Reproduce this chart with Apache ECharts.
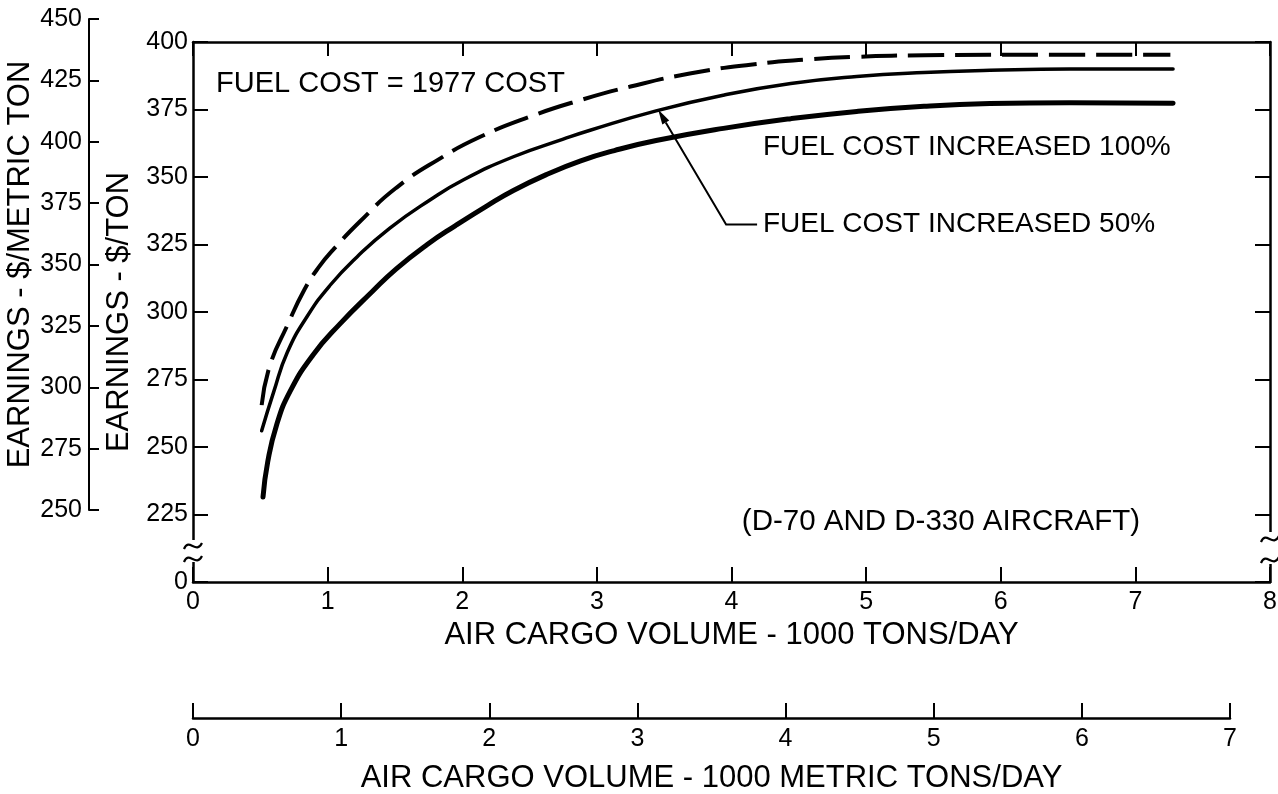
<!DOCTYPE html>
<html><head><meta charset="utf-8">
<script src="https://cdn.jsdelivr.net/npm/echarts@6/dist/echarts.min.js"></script>
<style>html,body{margin:0;padding:0;background:#fff}#c{width:1278px;height:794px}</style>
</head><body><div id="c"></div>
<script>
const FONT = 'Liberation Sans';
// Air cargo volume (1000 tons/day) and earnings ($/ton)
const volBase  = [0.51,0.57,0.70,0.83,0.94,1.04,1.24,1.51,1.84,2.13,2.50,2.88,3.25,3.69,4.14,4.56,4.93,5.43,6.42,7.26];
const earnBase = [265.5,280,295,308.5,317,323,333.5,346,357,364.8,372.3,378.5,383.5,388.3,391.6,393.5,394.5,395.1,395.3,395.3];
const vol50    = [0.51,0.60,0.70,0.85,1.02,1.22,1.46,1.76,2.01,2.38,2.75,2.95,3.44,3.94,4.44,4.93,5.43,5.92,6.51,7.28];
const earn50   = [256,270.5,285,298.5,310,320.5,331,341.5,349,357.5,364,367.3,374.5,380.3,384.6,387.2,388.7,389.5,390,390];
const vol100   = [0.52,0.555,0.62,0.72,0.89,1.09,1.33,1.51,1.74,1.95,2.19,2.38,2.63,2.88,3.13,3.44,3.94,4.44,4.93,5.43,5.92,6.51,7.28];
const earn100  = [231.5,244.5,258,270.5,284,295.5,307.5,316,325,332,339.5,345,351,356,359.8,363.5,368,371.6,374.3,376.2,377.2,377.5,377.3];
// axis breaks: value 200 on the $/ton axis stands for the broken "0"
const tonAxisRange = [200, 400];
const metricAxisRange = [250, 450];
const brokenZeroValue = 200;
// annotation anchors (data units)
const arrowTip = [3.455, 375.0], arrowElbow = [3.96, 332.4], arrowTail = [4.19, 332.4];

const zip = (a, b) => a.map((v, i) => [v, b[i]]);
const black = '#000';
const tickLabel = {fontFamily: FONT, fontSize: 25, color: black};
const nameStyle = {fontFamily: FONT, fontSize: 31, color: black};
const axLine = {show: true, onZero: false, lineStyle: {color: black, width: 2.5}};
const tick = len => ({show: true, inside: true, length: len, lineStyle: {color: black, width: 2}});

const chart = echarts.init(document.getElementById('c'));
chart.setOption({
  backgroundColor: '#fff',
  animation: false,
  grid: [
    {left: 193, top: 42, width: 1077, height: 540, outerBoundsMode: 'none'},
    {left: 89, top: 19, width: 1, height: 491, outerBoundsMode: 'none'},
    {left: 193, top: 700, width: 1037, height: 18, outerBoundsMode: 'none'}
  ],
  xAxis: [
    {gridIndex: 0, type: 'value', min: 0, max: 8, interval: 1, position: 'bottom',
     axisLine: axLine, axisTick: tick(15), axisLabel: {...tickLabel, margin: 8}, splitLine: {show: false},
     name: 'AIR CARGO VOLUME - 1000 TONS/DAY', nameLocation: 'middle', nameGap: 38, nameTextStyle: nameStyle},
    {gridIndex: 0, type: 'value', min: 0, max: 8, interval: 1, position: 'top',
     axisLine: axLine, axisTick: tick(14), axisLabel: {show: false}, splitLine: {show: false}},
    {gridIndex: 1, type: 'value', min: 0, max: 1, show: false},
    {gridIndex: 2, type: 'value', min: 0, max: 7, interval: 1, position: 'bottom',
     axisLine: axLine, axisTick: tick(15), axisLabel: {...tickLabel, margin: 9}, splitLine: {show: false},
     name: 'AIR CARGO VOLUME - 1000 METRIC TONS/DAY', nameLocation: 'middle', nameGap: 45, nameTextStyle: nameStyle}
  ],
  yAxis: [
    {gridIndex: 0, type: 'value', min: tonAxisRange[0], max: tonAxisRange[1], interval: 25, position: 'left',
     axisLine: axLine, axisTick: tick(15), splitLine: {show: false},
     axisLabel: {...tickLabel, margin: 5, formatter: v => v === brokenZeroValue ? '0' : String(v)},
     name: 'EARNINGS - $/TON', nameLocation: 'middle', nameRotate: 90, nameGap: 56, nameTextStyle: nameStyle},
    {gridIndex: 0, type: 'value', min: tonAxisRange[0], max: tonAxisRange[1], interval: 25, position: 'right',
     axisLine: axLine, axisTick: tick(15), axisLabel: {show: false}, splitLine: {show: false}},
    {gridIndex: 1, type: 'value', min: metricAxisRange[0], max: metricAxisRange[1], interval: 25, position: 'left',
     axisLine: {show: true, onZero: false, lineStyle: {color: black, width: 2}}, axisTick: tick(10),
     axisLabel: {...tickLabel, margin: 7}, splitLine: {show: false},
     name: 'EARNINGS - $/METRIC TON', nameLocation: 'middle', nameRotate: 90, nameGap: 48, nameTextStyle: nameStyle},
    {gridIndex: 2, type: 'value', min: 0, max: 1, show: false}
  ],
  series: [
    {name: 'FUEL COST = 1977 COST', type: 'line', xAxisIndex: 0, yAxisIndex: 0, data: zip(volBase, earnBase),
     showSymbol: false, smooth: 0.5, lineStyle: {color: black, width: 4, type: [36, 11], cap: 'butt'}},
    {name: 'FUEL COST INCREASED 50%', type: 'line', xAxisIndex: 0, yAxisIndex: 0, data: zip(vol50, earn50),
     showSymbol: false, smooth: 0.5, lineStyle: {color: black, width: 3.5, cap: 'round'}},
    {name: 'FUEL COST INCREASED 100%', type: 'line', xAxisIndex: 0, yAxisIndex: 0, data: zip(vol100, earn100),
     showSymbol: false, smooth: 0.5, lineStyle: {color: black, width: 5, cap: 'round'}}
  ]
});

const px = p => chart.convertToPixel({xAxisIndex: 0, yAxisIndex: 0}, p);
const tip = px(arrowTip), elb = px(arrowElbow), tail = px(arrowTail);
const dx = tip[0] - elb[0], dy = tip[1] - elb[1], L = Math.hypot(dx, dy);
const ux = dx / L, uy = dy / L, hl = 15, hw = 4;
const headBase = [tip[0] - ux * hl, tip[1] - uy * hl];

const txt = (text, x, y, size, align) => ({type: 'text', x, y, z: 50,
  style: {text, font: size + 'px "' + FONT + '"', fill: black, align: align || 'left', verticalAlign: 'middle'}});
const squiggle = (x, y) => ({type: 'bezierCurve', z: 60,
  shape: {x1: x - 9, y1: y + 3, cpx1: x - 4, cpy1: y - 9, cpx2: x + 3, cpy2: y + 9, x2: x + 9, y2: y - 3},
  style: {stroke: black, lineWidth: 2.2, fill: null}});

chart.setOption({
  graphic: [
    txt('FUEL COST = 1977 COST', 216, 84, 29),
    txt('FUEL COST INCREASED 100%', 763, 147, 28),
    txt('FUEL COST INCREASED 50%', 763, 224, 28),
    txt('(D-70 AND D-330 AIRCRAFT)', 941, 522, 29.5, 'center'),
    {type: 'polyline', z: 50, shape: {points: [tail, elb, headBase]}, style: {stroke: black, lineWidth: 2, fill: null}},
    {type: 'polygon', z: 50, shape: {points: [tip,
      [headBase[0] - uy * hw, headBase[1] + ux * hw], [headBase[0] + uy * hw, headBase[1] - ux * hw]]},
      style: {fill: black}},
    // axis break marks
    {type: 'rect', z: 55, shape: {x: 186, y: 540, width: 14, height: 22}, style: {fill: '#fff'}},
    squiggle(193, 546), squiggle(193, 559),
    {type: 'rect', z: 55, shape: {x: 1263, y: 532, width: 14, height: 32}, style: {fill: '#fff'}},
    squiggle(1270, 539), squiggle(1270, 560)
  ]
});
</script>
</body></html>
